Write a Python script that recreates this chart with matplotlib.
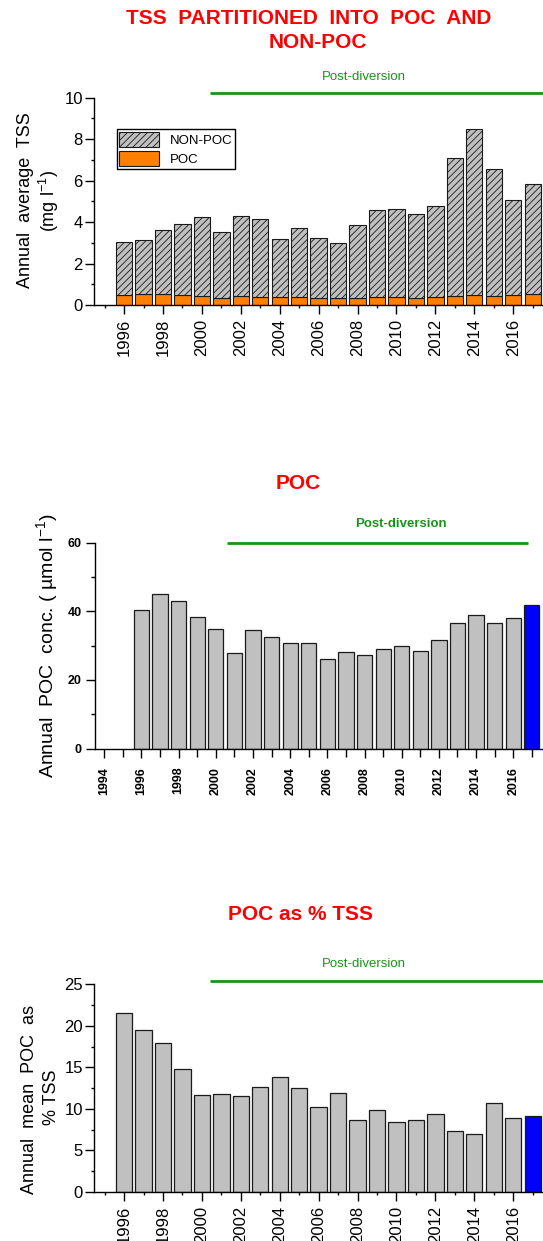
import numpy as np
import matplotlib
matplotlib.use("Agg")
import matplotlib.pyplot as plt
from matplotlib.ticker import MultipleLocator
from matplotlib.patches import Patch

plt.rcParams['font.family'] = ['Liberation Sans', 'DejaVu Sans']
plt.rcParams['mathtext.fontset'] = 'custom'
plt.rcParams['mathtext.rm'] = 'Liberation Sans'
plt.rcParams['mathtext.it'] = 'Liberation Sans:italic'
plt.rcParams['mathtext.bf'] = 'Liberation Sans:bold'
plt.rcParams['hatch.linewidth'] = 0.6
plt.rcParams['hatch.color'] = '#1a1a1a'

# ---- data ----
years = list(range(1996, 2018))
poc_mg = [0.50, 0.55, 0.51, 0.47, 0.42, 0.34, 0.42, 0.39, 0.37, 0.37, 0.34,
          0.35, 0.34, 0.37, 0.37, 0.34, 0.39, 0.45, 0.48, 0.45, 0.47, 0.51]
nonpoc_mg = [2.55, 2.57, 3.09, 3.42, 3.81, 3.16, 3.87, 3.74, 2.81, 3.33, 2.88,
             2.62, 3.50, 4.21, 4.28, 4.05, 4.38, 6.62, 7.99, 6.09, 4.58, 5.31]
poc_umol = [40.5, 45.1, 43.1, 38.4, 34.9, 27.8, 34.6, 32.5, 30.8, 30.8, 26.0,
            28.0, 27.3, 29.1, 30.0, 28.3, 31.7, 36.7, 39.0, 36.5, 38.1, 41.8]
poc_pct_tss = [21.6, 19.47, 17.9, 14.85, 11.64, 11.8, 11.56, 12.6, 13.8, 12.48, 10.27,
               11.88, 8.67, 9.91, 8.39, 8.63, 9.35, 7.30, 6.98, 10.71, 8.87, 9.15]
highlight_year = 2017
post_diversion_start = 2000.42

GRAY = '#c0c0c0'
ORANGE = '#ff8000'
BLUE = '#0000ff'
GREEN = '#1b921b'
EDGE = '#1a1a1a'

W, H = 543, 1241
fig = plt.figure(figsize=(W / 100, H / 100), dpi=100)


def axes_px(left, top, right, bottom):
    return fig.add_axes([left / W, 1 - bottom / H, (right - left) / W, (bottom - top) / H])


def fx(x):
    return x / W


def fy(y):
    return 1 - y / H


def style_axes(ax, bold=False, size=12, xpad=3.5, ypad=1.5, minor_len=2.5):
    for s in ('top', 'right'):
        ax.spines[s].set_visible(False)
    for s in ('left', 'bottom'):
        ax.spines[s].set_linewidth(1.0)
    ax.tick_params(which='major', direction='out', length=6.2, width=1.0,
                   labelsize=size)
    ax.tick_params(which='minor', direction='out', length=minor_len, width=1.0)
    ax.tick_params(axis='x', which='major', pad=xpad, labelrotation=90)
    ax.tick_params(axis='y', which='major', pad=ypad)
    ax.xaxis.set_major_locator(MultipleLocator(2))
    ax.xaxis.set_minor_locator(MultipleLocator(1))
    if bold:
        for lab in ax.get_xticklabels() + ax.get_yticklabels():
            lab.set_fontweight('bold')


x = np.array(years)
colors = [BLUE if y == highlight_year else GRAY for y in years]

# ---- panel 1: TSS partitioned ----
ax1 = axes_px(93.5, 97.7, 543, 305)
ax1.bar(x, poc_mg, width=0.84, color=ORANGE, edgecolor=EDGE, linewidth=0.8,
        label='POC', zorder=2)
ax1.bar(x, nonpoc_mg, width=0.84, bottom=poc_mg, color=GRAY, edgecolor=EDGE,
        linewidth=0.8, hatch='/////', label='NON-POC', zorder=2)
ax1.set_xlim(1994.43, 2017.53)
ax1.set_ylim(0, 10)
ax1.yaxis.set_major_locator(MultipleLocator(2))
ax1.yaxis.set_minor_locator(MultipleLocator(1))
style_axes(ax1)
ax1.set_xticks(range(1996, 2017, 2))
ax1.plot([post_diversion_start, 2017.53], [10.21, 10.21], color=GREEN, lw=2.0,
         clip_on=False, solid_capstyle='butt')
h_non = Patch(facecolor=GRAY, edgecolor=EDGE, hatch='/////', linewidth=0.8)
h_poc = Patch(facecolor=ORANGE, edgecolor=EDGE, linewidth=0.8)
leg = ax1.legend([h_non, h_poc], ['NON-POC', 'POC'], loc='upper left',
                 bbox_to_anchor=(fx(116.7), fy(129)), bbox_transform=fig.transFigure,
                 fontsize=9.5, frameon=True, fancybox=False, edgecolor='black',
                 framealpha=1, handlelength=3.0, handleheight=1.45,
                 handletextpad=0.8, labelspacing=0.25, borderpad=0.2,
                 borderaxespad=0)
leg.get_frame().set_linewidth(1.0)

fig.text(fx(309), fy(18), 'TSS  PARTITIONED  INTO  POC  AND', color='red',
         fontsize=15, fontweight='bold', ha='center', va='center')
fig.text(fx(318), fy(43), 'NON-POC', color='red', fontsize=15,
         fontweight='bold', ha='center', va='center')
fig.text(fx(364), fy(76.7), 'Post-diversion', color=GREEN, fontsize=9.5,
         ha='center', va='center')
fig.text(fx(26), fy(200.5), 'Annual  average  TSS', fontsize=13, rotation=90,
         ha='center', va='center')
fig.text(fx(48.5), fy(201), '(mg l$^{-1}$)', fontsize=13, rotation=90,
         ha='center', va='center')

# ---- panel 2: POC concentration ----
ax2 = axes_px(95, 542.7, 543, 748.5)
ax2.bar(x, poc_umol, width=0.82, color=colors, edgecolor=EDGE, linewidth=0.9,
        zorder=2)
ax2.set_xlim(1993.5, 2017.6)
ax2.set_ylim(0, 60)
ax2.yaxis.set_major_locator(MultipleLocator(20))
ax2.yaxis.set_minor_locator(MultipleLocator(10))
style_axes(ax2, bold=True, size=9, xpad=7, ypad=3.5, minor_len=6.0)
ax2.tick_params(axis='y', which='minor', length=3.0)
ax2.set_xticks(range(1994, 2017, 2))
for lab in ax2.get_xticklabels() + ax2.get_yticklabels():
    lab.set_fontweight('bold')
ax2.plot([2000.59, 2016.8], [60, 60], color=GREEN, lw=2.0, clip_on=False,
         solid_capstyle='butt')

fig.text(fx(298), fy(483.3), 'POC', color='red', fontsize=15,
         fontweight='bold', ha='center', va='center')
fig.text(fx(400.6), fy(524), 'Post-diversion', color=GREEN, fontsize=9.5,
         fontweight='bold', ha='center', va='center')
fig.text(fx(46.7), fy(646), 'Annual  POC  conc. ( \u00b5mol l$^{-1}$)',
         fontsize=14, rotation=90, ha='center', va='center')

# ---- panel 3: POC as % of TSS ----
ax3 = axes_px(93.5, 984.3, 543, 1192)
ax3.bar(x, poc_pct_tss, width=0.84, color=colors, edgecolor=EDGE,
        linewidth=0.9, zorder=2)
ax3.set_xlim(1994.43, 2017.53)
ax3.set_ylim(0, 25)
ax3.yaxis.set_major_locator(MultipleLocator(5))
ax3.yaxis.set_minor_locator(MultipleLocator(2.5))
style_axes(ax3)
ax3.set_xticks(range(1996, 2017, 2))
ax3.plot([post_diversion_start, 2017.53], [25.43, 25.43], color=GREEN, lw=2.0,
         clip_on=False, solid_capstyle='butt')

fig.text(fx(301), fy(914), 'POC as % TSS', color='red', fontsize=15,
         fontweight='bold', ha='center', va='center')
fig.text(fx(363.6), fy(964), 'Post-diversion', color=GREEN, fontsize=9.5,
         ha='center', va='center')
fig.text(fx(29.4), fy(1099), 'Annual  mean  POC  as', fontsize=13,
         rotation=90, ha='center', va='center')
fig.text(fx(52), fy(1097), '% TSS', fontsize=13, rotation=90,
         ha='center', va='center')

fig.savefig('out.png', dpi=100)
